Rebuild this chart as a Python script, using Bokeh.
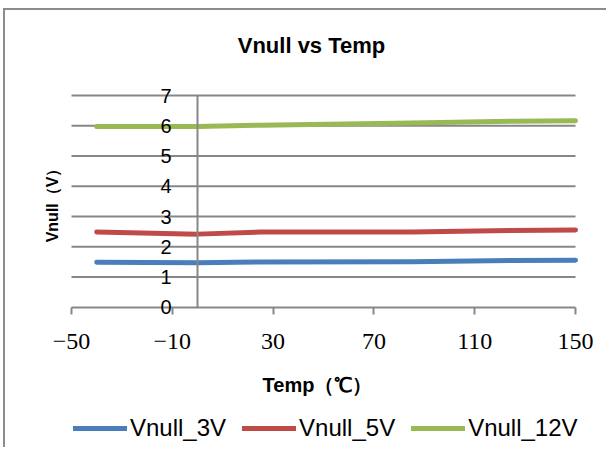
import math
from bokeh.plotting import figure
from bokeh.models import (Range1d, LinearAxis, FixedTicker, Legend, Label,
                          LegendItem, LabelSet, ColumnDataSource)
from bokeh.core.properties import value
from bokeh.embed import file_html
from bokeh.resources import INLINE

# ---- data ----
temps = [-40, 0, 25, 85, 125, 150]
vnull_3v = [1.49, 1.47, 1.50, 1.51, 1.55, 1.56]
vnull_5v = [2.49, 2.42, 2.49, 2.49, 2.54, 2.56]
vnull_12v = [5.98, 5.98, 6.02, 6.09, 6.15, 6.17]

series_names = ["Vnull_3V", "Vnull_5V", "Vnull_12V"]
series_colors = ["#4A7EBB", "#BE4B48", "#98B954"]

title_text = "Vnull vs Temp"
x_title = "Temp\uff08\u2103\uff09"
y_title = "Vnull\uff08V\uff09"

x_ticks = [-50, -10, 30, 70, 110, 150]
x_tick_labels = ["\u221250", "\u221210", "30", "70", "110", "150"]
y_ticks = [0, 1, 2, 3, 4, 5, 6, 7]
y_tick_labels = ["0", "1", "2", "3", "4", "5", "6", "7"]
y_grid_ticks = [1, 2, 3, 4, 5, 6, 7]
x_min, x_max = -50, 150
y_min, y_max = 0, 7
axis_cross = 0

GRAY = "#878787"

# the frame also holds the title (above), the axis texts and legend (below)
p = figure(frame_width=566, frame_height=413, output_backend="svg", toolbar_location=None,
           x_range=Range1d(x_min - 12.3, x_max + 12.3),
           y_range=Range1d(y_min - 4.5, y_max + 2.15),
           x_axis_type=None, y_axis_type=None,
           min_border_left=35, min_border_right=0,
           min_border_top=20, min_border_bottom=4)
p.outline_line_color = None
p.background_fill_color = "white"
p.border_fill_color = "white"
p.styles = {"margin-left": "3px", "margin-top": "8px",
            "border-left": "2px solid #8c8c8c", "border-top": "2px solid #8c8c8c"}

# chart title
p.add_layout(Label(x=(x_min + x_max) / 2, y=y_max, x_offset=-12, y_offset=50,
                   text=title_text, text_align="center", text_baseline="middle",
                   text_font="Liberation Sans", text_font_size="22px",
                   text_font_style="bold", text_color="black"))

# y axis title (rotated)
p.add_layout(Label(x=x_min, y=(y_min + y_max) / 2, x_offset=-19, angle=math.pi / 2,
                   text=y_title, text_align="center", text_baseline="middle",
                   text_font="Liberation Sans", text_font_size="16px",
                   text_font_style="bold", text_color="black"))

# horizontal gridlines spanning the x axis extent only
n_grid = len(y_grid_ticks)
p.segment(x0=[x_min] * n_grid, y0=y_grid_ticks, x1=[x_max] * n_grid, y1=y_grid_ticks,
          line_color=GRAY, line_width=2)

# y axis line crossing at x = 0
yaxis = LinearAxis(fixed_location=axis_cross, ticker=FixedTicker(ticks=[]),
                   bounds=(y_min, y_max),
                   axis_line_color=GRAY, axis_line_width=2,
                   major_tick_out=0, major_tick_in=0,
                   minor_tick_out=0, minor_tick_in=0)
p.add_layout(yaxis, "left")

# y tick labels beside the crossing axis
ylab_src = ColumnDataSource(dict(x=[axis_cross] * len(y_ticks), y=y_ticks,
                                 text=y_tick_labels))
p.add_layout(LabelSet(x="x", y="y", text="text", source=ylab_src, x_offset=-26,
                      text_align="right", text_baseline="middle",
                      text_font=value("Liberation Sans"), text_font_size=value("20px"),
                      text_color="black"))

# x axis line with ticks at y = 0
xline = LinearAxis(fixed_location=axis_cross, ticker=FixedTicker(ticks=x_ticks),
                   bounds=(x_min, x_max),
                   major_label_overrides={t: "" for t in x_ticks},
                   axis_line_color=GRAY, axis_line_width=2,
                   major_tick_line_color=GRAY, major_tick_line_width=2,
                   major_tick_out=7, major_tick_in=0,
                   minor_tick_out=0, minor_tick_in=0, major_label_standoff=0)
p.add_layout(xline, "below")

# x tick labels
xlab_src = ColumnDataSource(dict(x=x_ticks, y=[axis_cross] * len(x_ticks),
                                 text=x_tick_labels))
p.add_layout(LabelSet(x="x", y="y", text="text", source=xlab_src, y_offset=-34,
                      text_align="center", text_baseline="middle",
                      text_font=value("Liberation Serif"), text_font_size=value("24px"),
                      text_color="black"))

# x axis title
p.add_layout(Label(x=(x_min + x_max) / 2, y=axis_cross, x_offset=-6, y_offset=-78,
                   text=x_title, text_align="center", text_baseline="middle",
                   text_font="Liberation Sans", text_font_size="20px",
                   text_font_style="bold", text_color="black"))

items = []
for name, vals, col in zip(series_names, [vnull_3v, vnull_5v, vnull_12v], series_colors):
    r = p.line(temps, vals, line_color=col, line_width=5, line_cap="round",
               line_join="round")
    items.append(LegendItem(label=name, renderers=[r]))

legend = Legend(items=items, orientation="horizontal", location=(33, 1),
                glyph_width=54, glyph_height=20, label_standoff=3, spacing=16,
                padding=0, margin=0, border_line_color=None,
                background_fill_alpha=0, label_text_font="Liberation Sans",
                label_text_font_size="24px", label_text_color="black")
p.add_layout(legend)

open("out.html", "w").write(file_html(p, INLINE))
